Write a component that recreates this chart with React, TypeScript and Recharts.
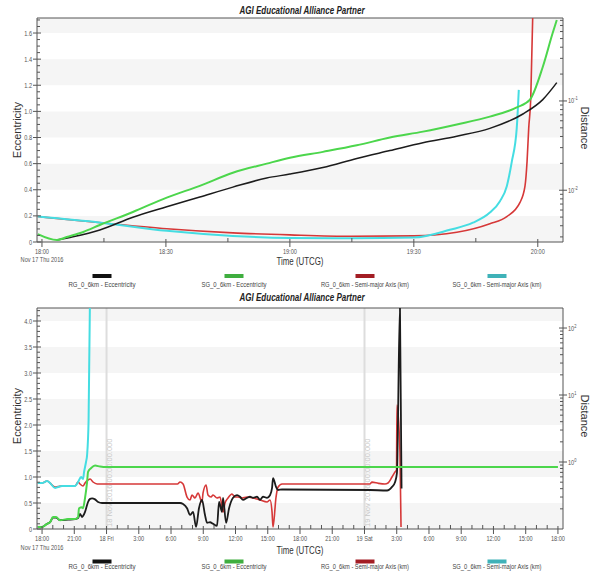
import React from 'react';
import { LineChart, Line, XAxis, YAxis, ReferenceArea, ReferenceLine } from 'recharts';

const FONT = '"Liberation Sans", Arial, Helvetica, sans-serif';
const SQ = 0.8;

// ---------------- Top chart: minutes after 18:00 UTCG, 17 Nov 2016 ----------------
const topRgEcc = [
  { t: 3.6, v: 0.015 }, { t: 7.5, v: 0.04 }, { t: 14, v: 0.092 }, { t: 22, v: 0.19 },
  { t: 30.2, v: 0.27 }, { t: 38.2, v: 0.345 }, { t: 46.2, v: 0.42 }, { t: 54.4, v: 0.49 },
  { t: 60, v: 0.52 }, { t: 68, v: 0.57 }, { t: 76.2, v: 0.64 }, { t: 84.2, v: 0.7 },
  { t: 92.2, v: 0.76 }, { t: 100.4, v: 0.81 }, { t: 108.4, v: 0.87 }, { t: 116.4, v: 0.98 },
  { t: 121.2, v: 1.09 }, { t: 124.6, v: 1.22 },
];
const topSgEcc = [
  { t: -1, v: 0.06 }, { t: 3.6, v: 0.015 }, { t: 6, v: 0.038 }, { t: 10, v: 0.077 },
  { t: 14, v: 0.13 }, { t: 22, v: 0.23 }, { t: 30.2, v: 0.34 }, { t: 38.2, v: 0.43 },
  { t: 46.2, v: 0.53 }, { t: 54.4, v: 0.6 }, { t: 60, v: 0.645 }, { t: 68, v: 0.69 },
  { t: 76.2, v: 0.74 }, { t: 84.2, v: 0.8 }, { t: 92.2, v: 0.845 }, { t: 100.4, v: 0.9 },
  { t: 108.4, v: 0.96 }, { t: 114.9, v: 1.03 }, { t: 118.1, v: 1.09 }, { t: 121.2, v: 1.34 },
  { t: 123.6, v: 1.6 }, { t: 124.6, v: 1.7 },
];
const topRgSma = [
  { t: -1, v: 0.00507 }, { t: 14.3, v: 0.00433 }, { t: 30.2, v: 0.0037 }, { t: 46.2, v: 0.00333 },
  { t: 60, v: 0.00316 }, { t: 75, v: 0.00305 }, { t: 90, v: 0.00308 }, { t: 95, v: 0.00315 },
  { t: 100.4, v: 0.00338 }, { t: 108.4, v: 0.00422 }, { t: 112.5, v: 0.00507 },
  { t: 115.7, v: 0.00731 }, { t: 116.9, v: 0.0111 }, { t: 117.4, v: 0.0209 },
  { t: 117.8, v: 0.0493 }, { t: 118.3, v: 0.108 }, { t: 118.8, v: 1.0 },
];
const topSgSma = [
  { t: -1, v: 0.00507 }, { t: 14.3, v: 0.00433 }, { t: 30.2, v: 0.00351 }, { t: 46.2, v: 0.00308 },
  { t: 60, v: 0.00292 }, { t: 75, v: 0.00289 }, { t: 90, v: 0.00295 }, { t: 98.7, v: 0.0036 },
  { t: 104.3, v: 0.00433 }, { t: 108.4, v: 0.00562 }, { t: 110.8, v: 0.0075 },
  { t: 112.5, v: 0.0111 }, { t: 113.7, v: 0.0208 }, { t: 114.9, v: 0.0493 }, { t: 115.4, v: 0.133 },
];

const topXMajors = [0, 30, 60, 90, 120];
const topXLabels = ['18:00', '18:30', '19:00', '19:30', '20:00'];
const topXMinors = [15, 45, 75, 105];
const topYMajors = [0, 0.2, 0.4, 0.6, 0.8, 1.0, 1.2, 1.4, 1.6];
const topYLabels = ['0', '0.2', '0.4', '0.6', '0.8', '1.0', '1.2', '1.4', '1.6'];
const topBands = [[0, 0.2], [0.4, 0.6], [0.8, 1.0], [1.2, 1.4], [1.6, 1.715]];
const topRMajors = [0.01, 0.1];
const topRExp = ['-2', '-1'];
const topRMinors = [0.003, 0.004, 0.005, 0.006, 0.007, 0.008, 0.009, 0.02, 0.03, 0.04, 0.05, 0.06, 0.07, 0.08, 0.09, 0.2, 0.3, 0.4, 0.5, 0.6, 0.7, 0.8];

// ---------------- Bottom chart: hours after 18:00 UTCG, 17 Nov 2016 ----------------
const botRgEcc = [
  { t: -0.4, v: 0.04 }, { t: 0, v: 0.04 }, { t: 0.47, v: 0.1 }, { t: 0.74, v: 0.13 },
  { t: 1.02, v: 0.22 }, { t: 1.3, v: 0.22 }, { t: 1.67, v: 0.17 }, { t: 2.42, v: 0.18 },
  { t: 3.07, v: 0.19 }, { t: 3.35, v: 0.21 }, { t: 3.53, v: 0.29 }, { t: 3.72, v: 0.23 },
  { t: 3.81, v: 0.25 }, { t: 4.0, v: 0.33 }, { t: 4.19, v: 0.46 }, { t: 4.28, v: 0.52 },
  { t: 4.47, v: 0.58 }, { t: 4.65, v: 0.59 }, { t: 4.93, v: 0.57 }, { t: 5.21, v: 0.52 },
  { t: 5.58, v: 0.5 }, { t: 12.84, v: 0.5 }, { t: 13.12, v: 0.48 }, { t: 13.49, v: 0.4 },
  { t: 13.77, v: 0.27 }, { t: 14.05, v: 0.33 }, { t: 14.33, v: 0.04 }, { t: 14.6, v: 0.4 },
  { t: 14.88, v: 0.56 }, { t: 15.16, v: 0.27 }, { t: 15.35, v: 0.12 }, { t: 15.63, v: 0.13 },
  { t: 15.91, v: 0.1 }, { t: 16.28, v: 0.06 }, { t: 16.47, v: 0.52 }, { t: 16.74, v: 0.33 },
  { t: 16.84, v: 0.6 }, { t: 17.12, v: 0.12 }, { t: 17.4, v: 0.4 }, { t: 17.77, v: 0.6 },
  { t: 18.14, v: 0.65 }, { t: 18.42, v: 0.62 }, { t: 18.7, v: 0.56 }, { t: 19.07, v: 0.6 },
  { t: 19.35, v: 0.62 }, { t: 19.63, v: 0.6 }, { t: 20.0, v: 0.62 }, { t: 20.28, v: 0.56 },
  { t: 20.56, v: 0.62 }, { t: 20.93, v: 0.6 }, { t: 21.21, v: 0.65 }, { t: 21.4, v: 0.79 },
  { t: 21.49, v: 0.98 }, { t: 21.77, v: 0.81 }, { t: 21.95, v: 0.75 }, { t: 22.33, v: 0.76 },
  { t: 30.5, v: 0.75 }, { t: 32.1, v: 0.74 }, { t: 32.56, v: 0.81 }, { t: 32.84, v: 0.9 },
  { t: 33.02, v: 1.08 }, { t: 33.3, v: 4.3 }, { t: 33.45, v: 0.78 },
];
const botSgEcc = [
  { t: -0.4, v: 0.04 }, { t: 0, v: 0.04 }, { t: 0.47, v: 0.1 }, { t: 0.74, v: 0.13 },
  { t: 1.02, v: 0.23 }, { t: 1.3, v: 0.23 }, { t: 1.67, v: 0.17 }, { t: 2.42, v: 0.19 },
  { t: 3.07, v: 0.19 }, { t: 3.35, v: 0.23 }, { t: 3.44, v: 0.4 }, { t: 3.72, v: 0.42 },
  { t: 3.81, v: 0.4 }, { t: 4.0, v: 0.6 }, { t: 4.19, v: 0.9 }, { t: 4.28, v: 1.1 },
  { t: 4.56, v: 1.17 }, { t: 4.93, v: 1.22 }, { t: 5.4, v: 1.2 }, { t: 6.0, v: 1.19 },
  { t: 48.0, v: 1.19 },
];
const botRgSma = [
  { t: -0.4, v: 0.486 }, { t: 0, v: 0.486 }, { t: 0.47, v: 0.52 }, { t: 0.74, v: 0.486 },
  { t: 1.21, v: 0.424 }, { t: 1.49, v: 0.43 }, { t: 1.86, v: 0.438 }, { t: 3.07, v: 0.438 },
  { t: 3.35, v: 0.503 }, { t: 3.53, v: 0.47 }, { t: 3.81, v: 0.438 }, { t: 4.0, v: 0.486 },
  { t: 4.28, v: 0.539 }, { t: 4.47, v: 0.557 }, { t: 4.74, v: 0.503 }, { t: 5.12, v: 0.47 },
  { t: 5.58, v: 0.47 }, { t: 12.6, v: 0.47 }, { t: 12.84, v: 0.503 }, { t: 13.12, v: 0.47 },
  { t: 13.49, v: 0.3 }, { t: 13.77, v: 0.271 }, { t: 13.95, v: 0.322 }, { t: 14.23, v: 0.29 },
  { t: 14.51, v: 0.345 }, { t: 14.88, v: 0.253 }, { t: 14.98, v: 0.345 }, { t: 15.26, v: 0.454 },
  { t: 15.44, v: 0.322 }, { t: 15.72, v: 0.3 }, { t: 15.91, v: 0.322 }, { t: 16.28, v: 0.29 },
  { t: 16.56, v: 0.3 }, { t: 16.84, v: 0.179 }, { t: 17.02, v: 0.244 }, { t: 17.3, v: 0.29 },
  { t: 17.67, v: 0.333 }, { t: 17.95, v: 0.3 }, { t: 18.23, v: 0.3 }, { t: 18.6, v: 0.29 },
  { t: 19.07, v: 0.3 }, { t: 19.63, v: 0.29 }, { t: 20.28, v: 0.271 }, { t: 20.93, v: 0.253 },
  { t: 21.21, v: 0.271 }, { t: 21.4, v: 0.179 }, { t: 21.49, v: 0.107 }, { t: 21.77, v: 0.3 },
  { t: 21.95, v: 0.42 }, { t: 22.33, v: 0.47 }, { t: 30.5, v: 0.47 }, { t: 30.7, v: 0.5 },
  { t: 31.3, v: 0.48 }, { t: 31.9, v: 0.47 }, { t: 32.19, v: 0.486 }, { t: 32.56, v: 0.597 },
  { t: 32.84, v: 0.709 }, { t: 32.98, v: 0.76 }, { t: 33.02, v: 7.1 }, { t: 33.3, v: 1.4 },
  { t: 33.4, v: 0.107 },
];
const botSgSma = [
  { t: -0.4, v: 0.486 }, { t: 0, v: 0.486 }, { t: 0.47, v: 0.52 }, { t: 0.74, v: 0.486 },
  { t: 1.21, v: 0.409 }, { t: 1.49, v: 0.424 }, { t: 1.86, v: 0.438 }, { t: 2.42, v: 0.438 },
  { t: 3.07, v: 0.438 }, { t: 3.35, v: 0.503 }, { t: 3.63, v: 0.597 }, { t: 3.81, v: 0.557 },
  { t: 3.91, v: 0.709 }, { t: 4.09, v: 1.0 }, { t: 4.19, v: 1.27 }, { t: 4.33, v: 4.24 },
  { t: 4.47, v: 400 },
];

const botXMajors = [0, 3, 6, 9, 12, 15, 18, 21, 24, 27, 30, 33, 36, 39, 42, 45, 48];
const botXLabels = ['18:00', '21:00', '18 Fri', '3:00', '6:00', '9:00', '12:00', '15:00', '18:00', '21:00', '19 Sat', '3:00', '6:00', '9:00', '12:00', '15:00', '18:00'];
const botYMajors = [0, 0.5, 1.0, 1.5, 2.0, 2.5, 3.0, 3.5, 4.0];
const botYLabels = ['0', '0.5', '1.0', '1.5', '2.0', '2.5', '3.0', '3.5', '4.0'];
const botBands = [[0, 0.5], [1.0, 1.5], [2.0, 2.5], [3.0, 3.5], [4.0, 4.25]];
const botRMajors = [1, 10, 100];
const botRExp = ['0', '1', '2'];
const botRMinors = [0.2, 0.3, 0.4, 0.5, 0.6, 0.7, 0.8, 0.9, 2, 3, 4, 5, 6, 7, 8, 9, 20, 30, 40, 50, 60, 70, 80, 90];
const botDayLines = [6, 30];
const botDayTexts = ['18 Nov 2016 00:00:00.000', '19 Nov 2016 00:00:00.000'];

// ---------------- Legend ----------------
const seriesNames = ['RG_0_6km - Eccentricity', 'SG_0_6km - Eccentricity', 'RG_0_6km - Semi-major Axis (km)', 'SG_0_6km - Semi-major Axis (km)'];
const lineColors = ['#1c1c1c', '#4cd64c', '#d63838', '#45dde2'];
const swatchColors = ['#111111', '#3fae3f', '#a31d24', '#3fb2b8'];

const near = (a: number, b: number) => Math.abs(a - b) < 1e-6;
const steps = (from: number, to: number, step: number) => {
  const out: number[] = [];
  for (let i = 0; from + i * step <= to + 1e-9; i++) out.push(+(from + i * step).toFixed(4));
  return out;
};

const AX = '#555';
const TICK_TXT = '#555';

function HT({ x, y, children, anchor = 'middle', size = 7, fill = TICK_TXT }: any) {
  return (
    <text transform={`translate(${x},${y}) scale(${SQ},1)`} textAnchor={anchor} fontSize={size} fill={fill} fontFamily={FONT}>
      {children}
    </text>
  );
}

const makeXTick = (majors: number[], labels: string[]) => (props: any) => {
  const { x, y, payload } = props;
  const i = majors.findIndex((m) => near(m, payload.value));
  if (i < 0) return <line x1={x} x2={x} y1={y - 4} y2={y} stroke={AX} strokeWidth={1} />;
  return (
    <g>
      <line x1={x} x2={x} y1={y - 3} y2={y + 5} stroke={AX} strokeWidth={1} />
      <HT x={x} y={y + 11.5}>{labels[i]}</HT>
    </g>
  );
};

const makeLeftTick = (majors: number[], labels: string[]) => (props: any) => {
  const { x, y, payload } = props;
  const i = majors.findIndex((m) => near(m, payload.value));
  if (i < 0) return <line x1={x} x2={x + 3} y1={y} y2={y} stroke={AX} strokeWidth={1} />;
  return (
    <g>
      <line x1={x - 4} x2={x + 4} y1={y} y2={y} stroke={AX} strokeWidth={1} />
      <HT x={x - 5} y={y + 2.5} anchor="end">{labels[i]}</HT>
    </g>
  );
};

const makeRightTick = (majors: number[], exps: string[]) => (props: any) => {
  const { x, y, payload } = props;
  const i = majors.findIndex((m) => Math.abs(m - payload.value) / m < 1e-6);
  if (i < 0) return <line x1={x - 3} x2={x} y1={y} y2={y} stroke={AX} strokeWidth={1} />;
  return (
    <g>
      <line x1={x - 4} x2={x + 4} y1={y} y2={y} stroke={AX} strokeWidth={1} />
      <text transform={`translate(${x + 5},${y + 2.5}) scale(${SQ},1)`} fontSize={7} fill={TICK_TXT} fontFamily={FONT}>
        10<tspan dy={-3} fontSize={5}>{exps[i]}</tspan>
      </text>
    </g>
  );
};

const makeDayLabel = (text: string) => (props: any) => {
  const vb = props.viewBox || {};
  const bx = (vb.x || 0) + 5.5;
  const by = (vb.y || 0) + (vb.height || 0) - 2;
  return (
    <text transform={`translate(${bx},${by}) rotate(-90)`} fontSize={7.5} fill="#c9c9c9" fontFamily={FONT}>
      {text}
    </text>
  );
};

type Series = { data: { t: number; v: number }[]; axis: 'left' | 'right'; color: string; width: number };

function Panel(props: any) {
  const {
    height, marginBottom, xDomain, xTicks, xMajors, xLabels,
    yDomain, yTicks, yMajors, yLabels, bands, rDomain, rTicks, rMajors, rExp,
    series, dayLines, dayTexts,
  } = props;
  return (
    <LineChart width={594} height={height} margin={{ top: 18, right: 0, bottom: marginBottom, left: 0 }}>
      {bands.map((b: number[], i: number) => (
        <ReferenceArea key={'b' + i} yAxisId="left" y1={b[0]} y2={b[1]} fill="#f5f5f5" fillOpacity={1} stroke="none" ifOverflow="hidden" />
      ))}
      {(dayLines || []).map((d: number, i: number) => (
        <ReferenceLine key={'d' + i} yAxisId="left" x={d} stroke="#dddddd" strokeWidth={2} label={makeDayLabel(dayTexts[i])} />
      ))}
      <XAxis
        type="number" dataKey="t" domain={xDomain} allowDataOverflow ticks={xTicks} interval={0}
        tick={makeXTick(xMajors, xLabels)} tickLine={false} tickSize={0} tickMargin={0}
        height={20} axisLine={{ stroke: AX }}
      />
      <YAxis
        yAxisId="left" type="number" domain={yDomain} allowDataOverflow ticks={yTicks} interval={0}
        tick={makeLeftTick(yMajors, yLabels)} tickLine={false} tickSize={0} tickMargin={0}
        width={37} axisLine={{ stroke: AX }}
      />
      <YAxis
        yAxisId="right" orientation="right" type="number" scale="log" domain={rDomain} allowDataOverflow
        ticks={rTicks} interval={0} tick={makeRightTick(rMajors, rExp)} tickLine={false} tickSize={0}
        tickMargin={0} width={31} axisLine={{ stroke: AX }}
      />
      <ReferenceLine yAxisId="left" y={yDomain[1]} stroke={AX} strokeWidth={1} />
      {series.map((s: Series, i: number) => (
        <Line
          key={'s' + i} data={s.data} dataKey="v" yAxisId={s.axis} type="monotone" stroke={s.color}
          strokeWidth={s.width} dot={false} activeDot={false} isAnimationActive={false}
        />
      ))}
    </LineChart>
  );
}

function Overlay() {
  const legendX = [102, 234, 365, 497];
  const legendLen = [67, 65, 88, 89];
  const legend = (swY: number, txtY: number) =>
    seriesNames.map((n, i) => (
      <g key={n + swY}>
        <rect x={legendX[i] - 9.5} y={swY} width={19} height={4} fill={swatchColors[i]} />
        <text x={legendX[i]} y={txtY} textAnchor="middle" fontSize={7.5} fill="#444" fontFamily={FONT}
          textLength={legendLen[i]} lengthAdjust="spacingAndGlyphs">{n}</text>
      </g>
    ));
  const title = (y: number) => (
    <text x={302} y={y} textAnchor="middle" fontSize={10} fontWeight="bold" fontStyle="italic" fill="#222"
      fontFamily={FONT} textLength={125} lengthAdjust="spacingAndGlyphs">AGI Educational Alliance Partner</text>
  );
  const timeLabel = (y: number) => (
    <text x={300} y={y} textAnchor="middle" fontSize={11} fill="#333" fontFamily={FONT}
      textLength={47} lengthAdjust="spacingAndGlyphs">Time (UTCG)</text>
  );
  const dateLabel = (y: number) => <HT x={42} y={y} fill="#555">Nov 17 Thu 2016</HT>;
  const ecc = (cy: number) => (
    <text transform={`translate(21,${cy}) rotate(-90)`} textAnchor="middle" fontSize={11} fill="#333" fontFamily={FONT}>Eccentricity</text>
  );
  const dist = (cy: number) => (
    <text transform={`translate(581,${cy}) rotate(90)`} textAnchor="middle" fontSize={11} fill="#333" fontFamily={FONT}>Distance</text>
  );
  return (
    <svg width={594} height={571} style={{ position: 'absolute', left: 0, top: 0, pointerEvents: 'none' }}>
      {title(13.5)}
      {title(301)}
      {timeLabel(265)}
      {timeLabel(554)}
      {dateLabel(262)}
      {dateLabel(550)}
      {ecc(130)}
      {ecc(416)}
      {dist(128)}
      {dist(416)}
      {legend(274, 287)}
      {legend(559.5, 569)}
    </svg>
  );
}

export default function App() {
  const topSeries: Series[] = [
    { data: topRgSma, axis: 'right', color: lineColors[2], width: 1.6 },
    { data: topSgSma, axis: 'right', color: lineColors[3], width: 2 },
    { data: topRgEcc, axis: 'left', color: lineColors[0], width: 1.5 },
    { data: topSgEcc, axis: 'left', color: lineColors[1], width: 2 },
  ];
  const botSeries: Series[] = [
    { data: botRgSma, axis: 'right', color: lineColors[2], width: 1.6 },
    { data: botRgEcc, axis: 'left', color: lineColors[0], width: 1.8 },
    { data: botSgSma, axis: 'right', color: lineColors[3], width: 2 },
    { data: botSgEcc, axis: 'left', color: lineColors[1], width: 2 },
  ];
  return (
    <div style={{ position: 'fixed', left: 0, top: 0, width: 594, height: 571, background: '#fff', overflow: 'hidden' }}>
      <div style={{ position: 'absolute', left: 0, top: 0 }}>
        <Panel
          height={290} marginBottom={28}
          xDomain={[-1.2, 126.1]} xTicks={[...topXMajors, ...topXMinors].sort((a, b) => a - b)}
          xMajors={topXMajors} xLabels={topXLabels}
          yDomain={[0, 1.715]} yTicks={steps(0, 1.7, 0.05)} yMajors={topYMajors} yLabels={topYLabels}
          bands={topBands} rDomain={[0.00263, 0.85]} rTicks={[...topRMinors, ...topRMajors].sort((a, b) => a - b)}
          rMajors={topRMajors} rExp={topRExp} series={topSeries}
        />
      </div>
      <div style={{ position: 'absolute', left: 0, top: 290 }}>
        <Panel
          height={281} marginBottom={22}
          xDomain={[-0.47, 48.47]} xTicks={steps(0, 48, 1)} xMajors={botXMajors} xLabels={botXLabels}
          yDomain={[0, 4.25]} yTicks={steps(0, 4.2, 0.1)} yMajors={botYMajors} yLabels={botYLabels}
          bands={botBands} rDomain={[0.1, 199]} rTicks={[...botRMinors, ...botRMajors].sort((a, b) => a - b)}
          rMajors={botRMajors} rExp={botRExp} series={botSeries} dayLines={botDayLines} dayTexts={botDayTexts}
        />
      </div>
      <Overlay />
    </div>
  );
}
